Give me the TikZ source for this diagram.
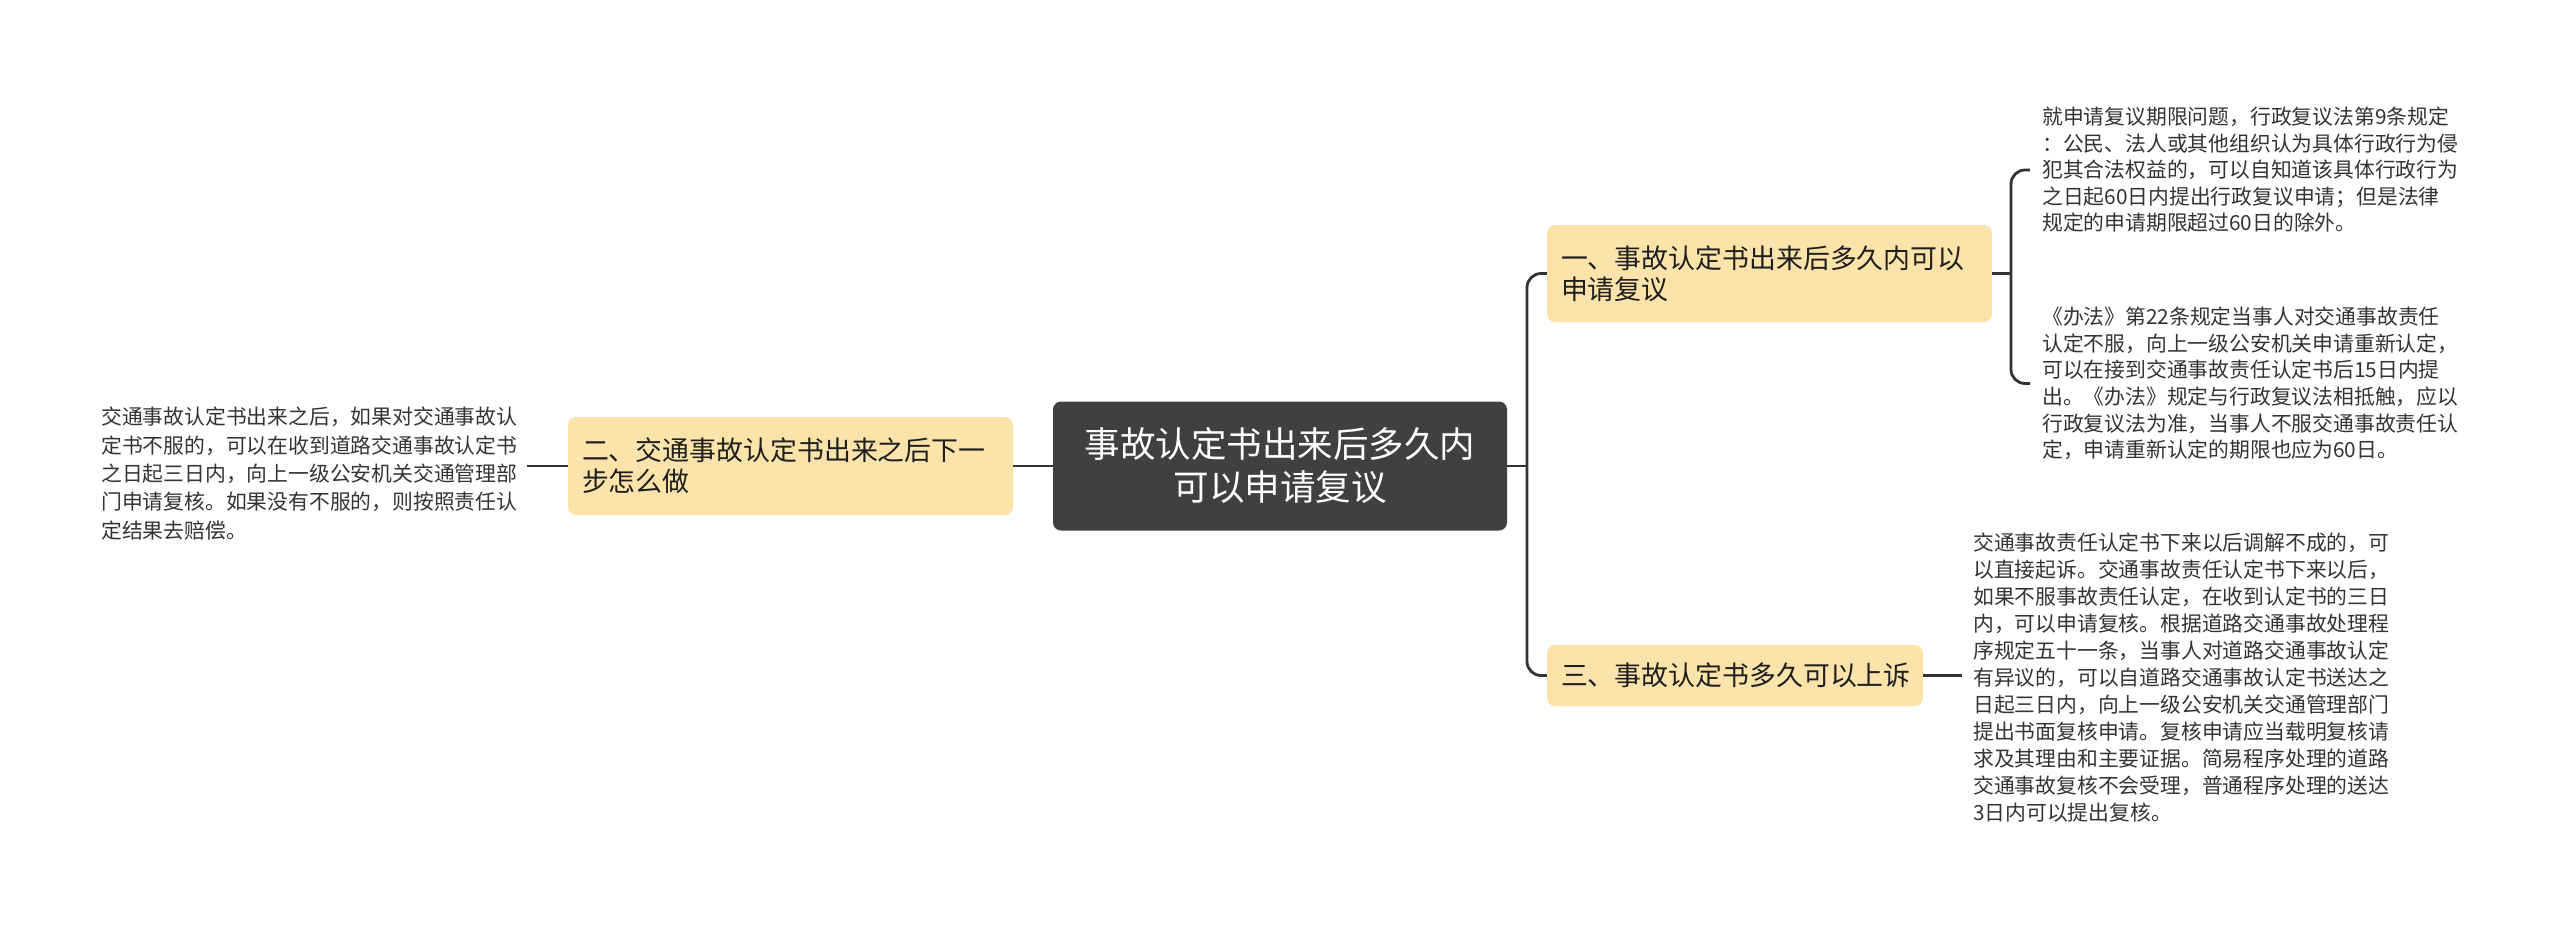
\documentclass[tikz,border=0pt]{standalone}
\usepackage{fontspec}
\setmainfont{Noto Sans CJK SC}
\definecolor{nodeyel}{HTML}{FCE3AA}
\definecolor{darkbox}{HTML}{404040}
\definecolor{linec}{HTML}{333333}
\definecolor{leaftxt}{HTML}{333333}
\definecolor{topictxt}{HTML}{1E1E1E}
\begin{document}
\begin{tikzpicture}[x=1pt,y=-1pt,
  conn/.style={draw=linec,line width=2.8pt},
  rootbox/.style={fill=darkbox, rounded corners=8pt, inner xsep=14pt, inner ysep=0pt,
    align=center, text=white, font=\fontsize{35.5}{43}\selectfont},
  topic/.style={fill=nodeyel, rounded corners=8pt, inner xsep=14pt, inner ysep=0pt,
    align=left, text=topictxt, font=\fontsize{26.9}{31}\selectfont},
  leaf/.style={inner ysep=0pt, align=left, text=leaftxt, anchor=west,
    font=\fontsize{20.8}{27}\selectfont}]
\useasboundingbox (0,0) rectangle (2560,924);

% root
\node[rootbox, text width=426pt, minimum height=129pt] (root) at (1280,466)
  {事故认定书出来后多久内\\可以申请复议};

% topics
\node[topic, text width=417pt, minimum height=98pt] (two) at (790.5,466)
  {二、交通事故认定书出来之后下一\\步怎么做};
\node[topic, text width=417pt, minimum height=97pt] (one) at (1769.5,273.5)
  {一、事故认定书出来后多久内可以\\申请复议};
\node[topic, text width=348pt, minimum height=61pt] (three) at (1735,675.5)
  {三、事故认定书多久可以上诉};

% leaves
\node[leaf, inner xsep=10pt, font=\fontsize{20.8}{28.3}\selectfont] (leafL) at (91,473.5)
  {交通事故认定书出来之后，如果对交通事故认\\定书不服的，可以在收到道路交通事故认定书\\之日起三日内，向上一级公安机关交通管理部\\门申请复核。如果没有不服的，则按照责任认\\定结果去赔偿。};
\node[leaf, inner xsep=12pt, font=\fontsize{20.8}{26.5}\selectfont] (r1) at (2030,170)
  {就申请复议期限问题，行政复议法第9条规定\\：公民、法人或其他组织认为具体行政行为侵\\犯其合法权益的，可以自知道该具体行政行为\\之日起60日内提出行政复议申请；但是法律\\规定的申请期限超过60日的除外。};
\node[leaf, inner xsep=12pt, font=\fontsize{20.8}{26.6}\selectfont] (r2) at (2030,383.5)
  {《办法》第22条规定当事人对交通事故责任\\认定不服，向上一级公安机关申请重新认定，\\可以在接到交通事故责任认定书后15日内提\\出。《办法》规定与行政复议法相抵触，应以\\行政复议法为准，当事人不服交通事故责任认\\定，申请重新认定的期限也应为60日。};
\node[leaf, inner xsep=11pt] (r3) at (1962,678)
  {交通事故责任认定书下来以后调解不成的，可\\以直接起诉。交通事故责任认定书下来以后，\\如果不服事故责任认定，在收到认定书的三日\\内，可以申请复核。根据道路交通事故处理程\\序规定五十一条，当事人对道路交通事故认定\\有异议的，可以自道路交通事故认定书送达之\\日起三日内，向上一级公安机关交通管理部门\\提出书面复核申请。复核申请应当载明复核请\\求及其理由和主要证据。简易程序处理的道路\\交通事故复核不会受理，普通程序处理的送达\\3日内可以提出复核。};

% connectors
\coordinate (tr) at (1527,466);
\coordinate (br) at (2011,274);
\draw[conn] (root.west) -- (two.east);
\draw[conn] (two.west) -- (two.west -| leafL.east);
\draw[conn] (root.east) -- (tr);
\draw[conn, rounded corners=14pt] (one.west) -- (one.west -| tr) -- (three.west -| tr) -- (three.west);
\draw[conn] (one.east) -- (one.east -| br);
\draw[conn, rounded corners=14pt] (r1.west) -- (r1.west -| br) -- (r2.west -| br) -- (r2.west);
\draw[conn] (three.east) -- (three.east -| r3.west);
\end{tikzpicture}
\end{document}
